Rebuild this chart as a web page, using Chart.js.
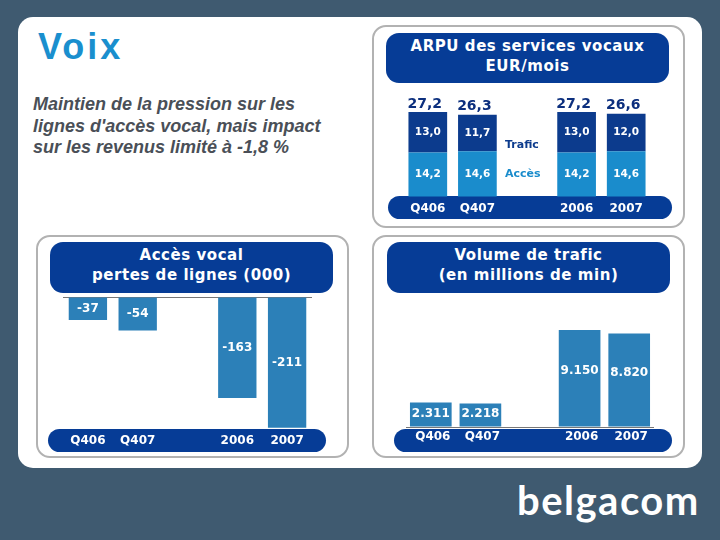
<!DOCTYPE html>
<html lang="fr">
<head>
    <meta charset="UTF-8">
    <title>Voix</title>
    <script src="https://cdn.jsdelivr.net/npm/chart.js"></script>
    <style>
        html, body { margin: 0; padding: 0; }
        body { position: relative; width: 720px; height: 540px; overflow: hidden; background: #3f5a70; font-family: "DejaVu Sans", sans-serif; }
        div, canvas { position: absolute; }
        #sheet { left: 18px; top: 17px; width: 684px; height: 451px; background: #fff; border-radius: 15px; }
        .panel { box-sizing: border-box; border: 2px solid #b2b2b2; border-radius: 14px; }
        .head { box-sizing: border-box; background: #063c96; border-radius: 13px; color: #fff; font-weight: bold; font-size: 15px; letter-spacing: 0.55px; line-height: 19.5px; text-align: center; padding-top: 4px; }
        .pill { background: #063c96; border-radius: 12px; height: 23px; }
        #voix { left: 38px; top: 26px; font: bold 36px "Liberation Sans", sans-serif; letter-spacing: 3px; color: #1a8fce; }
        #intro { left: 33px; top: 94px; white-space: nowrap; font: italic bold 18px/21.5px "Liberation Sans", sans-serif; color: #4a4f57; }
        .key { font-weight: bold; font-size: 11px; left: 505px; }
        #logo { left: 517px; top: 476px; font: bold 40px Lato, sans-serif; letter-spacing: 1.5px; color: #fff; }
    </style>
</head>
<body>
    <div id="sheet"></div>
    <div id="voix">Voix</div>
    <div id="intro">Maintien de la pression sur les<br>lignes d'accès vocal, mais impact<br>sur les revenus limité à -1,8 %</div>

    <div class="panel" style="left:372px;top:25px;width:313px;height:203px"></div>
    <div class="panel" style="left:36px;top:235px;width:313px;height:223px"></div>
    <div class="panel" style="left:372px;top:235px;width:313px;height:223px"></div>

    <div class="head" style="left:386px;top:33px;width:283px;height:50px">ARPU des services vocaux<br>EUR/mois</div>
    <div class="head" style="left:50px;top:242px;width:283px;height:51px">Accès vocal<br>pertes de lignes (000)</div>
    <div class="head" style="left:387px;top:242px;width:283px;height:51px">Volume de trafic<br>(en millions de min)</div>

    <div class="pill" style="left:388px;top:196px;width:284px"></div>
    <div class="pill" style="left:48px;top:429px;width:278px"></div>
    <div class="pill" style="left:394px;top:429px;width:278px"></div>

    <canvas id="arpu" width="248" height="129" style="left:403px;top:90px"></canvas>
    <canvas id="lines" width="249" height="162" style="left:63px;top:290px"></canvas>
    <canvas id="volume" width="248" height="142" style="left:406px;top:310px"></canvas>

    <div class="key" style="top:138px;color:#0c3b8d">Trafic</div>
    <div class="key" style="top:167px;color:#1a8ccc">Accès</div>
    <div id="logo">belgacom</div>

    <script>
        // Sample data, the empty category is the gap between quarters and years
        const categories = ['Q406', 'Q407', '', '2006', '2007'];
        const arpuAcces = [14.2, 14.6, null, 14.2, 14.6];
        const arpuTrafic = [13.0, 11.7, null, 13.0, 12.0];
        const arpuTotals = [27.2, 26.3, null, 27.2, 26.6];
        const lineLosses = [-37, -54, null, -163, -211];
        const trafficVolume = [2311, 2218, null, 9150, 8820];

        const FONT = 'DejaVu Sans';
        Chart.defaults.font.family = FONT;

        const comma = v => v.toFixed(1).replace('.', ',');
        const thousands = v => String(v).replace(/(\d)(\d{3})$/, '$1.$2');

        // Writes the values on the bars, and the totals above them when there are any
        const barLabels = {
            id: 'barLabels',
            afterDatasetsDraw(chart, args, opts) {
                const ctx = chart.ctx;
                ctx.save();
                ctx.textAlign = 'center';
                ctx.textBaseline = 'middle';
                ctx.fillStyle = '#fff';
                ctx.font = 'bold ' + opts.size + 'px "' + FONT + '"';
                chart.data.datasets.forEach((ds, i) => {
                    chart.getDatasetMeta(i).data.forEach((bar, j) => {
                        if (ds.data[j] === null) return;
                        const lift = opts.lift ? opts.lift(ds.data[j]) : 0;
                        ctx.fillText(opts.format(ds.data[j]), bar.x, (bar.y + bar.base) / 2 - lift);
                    });
                });
                if (opts.totals) {
                    const top = chart.getDatasetMeta(chart.data.datasets.length - 1).data;
                    ctx.fillStyle = '#0c2f7e';
                    ctx.font = 'bold 14px "' + FONT + '"';
                    opts.totals.forEach((v, j) => {
                        if (v !== null) ctx.fillText(opts.format(v), top[j].x - 3, top[j].y - 8);
                    });
                }
                ctx.restore();
            }
        };

        function makeChart(id, datasets, o) {
            return new Chart(document.getElementById(id), {
                type: 'bar',
                data: { labels: categories, datasets: datasets },
                plugins: [barLabels],
                options: {
                    responsive: false,
                    animation: false,
                    layout: { padding: { top: o.top } },
                    plugins: {
                        legend: { display: false },
                        tooltip: { enabled: false },
                        barLabels: o.labels
                    },
                    scales: {
                        x: {
                            stacked: true,
                            afterFit: s => { s.height = o.axisHeight; },
                            grid: { display: false },
                            border: { display: false },
                            ticks: {
                                color: '#fff',
                                padding: o.tickPad,
                                labelOffset: o.tickShift || 0,
                                maxRotation: 0,
                                font: { size: 12, weight: 'bold' }
                            }
                        },
                        y: {
                            stacked: true,
                            min: o.min,
                            max: o.max,
                            afterFit: s => { s.width = 0; },
                            border: { display: false },
                            grid: {
                                drawTicks: false,
                                color: c => (o.zeroLine && c.tick.value === 0) ? '#777' : 'transparent'
                            },
                            ticks: { display: false }
                        }
                    }
                }
            });
        }

        makeChart('arpu', [
            { data: arpuAcces, backgroundColor: '#1a8ccc', barPercentage: 0.78, categoryPercentage: 1 },
            { data: arpuTrafic, backgroundColor: '#0c3b8d', barPercentage: 0.78, categoryPercentage: 1 }
        ], {
            top: 10, min: 0, max: 31, axisHeight: 22, tickPad: -3, zeroLine: false,
            labels: { size: 10.5, format: comma, totals: arpuTotals }
        });

        makeChart('lines', [
            { data: lineLosses, backgroundColor: '#2c80b8', barPercentage: 0.77, categoryPercentage: 1 }
        ], {
            top: 7, min: -213, max: 0, axisHeight: 23, tickPad: -3, zeroLine: true,
            labels: { size: 12, format: String }
        });

        makeChart('volume', [
            { data: trafficVolume, backgroundColor: '#2c80b8', barPercentage: 0.84, categoryPercentage: 1 }
        ], {
            top: 10, min: 0, max: 10100, axisHeight: 25, tickPad: -5, tickShift: 2, zeroLine: true,
            labels: { size: 12, format: thousands, lift: v => (v > 5000 ? 7 : 1) }
        });
    </script>
</body>
</html>
